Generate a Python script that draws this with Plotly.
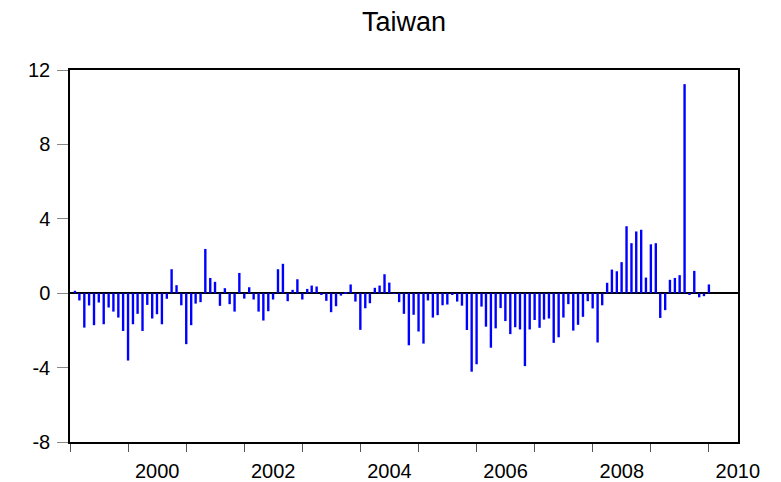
import pandas as pd
import plotly.graph_objects as go

# monthly values, Feb 1999 .. Jan 2010
months = pd.date_range('1999-02-01', '2010-01-01', freq='MS')
values = [
    0.13, -0.39, -1.85, -0.66, -1.72, -0.50, -1.67, -0.77, -0.99, -1.31, -2.03,
    -3.62, -1.67, -1.11, -2.03, -0.63, -1.36, -1.13, -1.67, -0.30, 1.29, 0.43,
    -0.65, -2.74, -1.72, -0.56, -0.48, 2.38, 0.82, 0.61, -0.68, 0.27, -0.59,
    -0.99, 1.09, -0.29, 0.32, -0.34, -0.99, -1.47, -0.97, -0.34, 1.29, 1.58,
    -0.43, 0.18, 0.75, -0.34, 0.23, 0.41, 0.36, -0.07, -0.41, -1.02, -0.70,
    -0.13, 0.05, 0.47, -0.45, -1.97, -0.81, -0.54, 0.29, 0.41, 1.02, 0.57,
    -0.03, -0.48, -1.11, -2.80, -1.16, -2.06, -2.71, -0.39, -1.31, -1.18,
    -0.65, -0.61, -0.07, -0.45, -0.67, -1.98, -4.22, -3.82, -0.72, -1.80,
    -2.93, -1.89, -0.80, -1.50, -2.20, -1.83, -1.95, -3.92, -1.95, -1.44,
    -1.86, -1.42, -1.36, -2.67, -2.37, -1.31, -0.59, -2.01, -1.70, -1.27,
    -0.43, -0.82, -2.65, -0.65, 0.56, 1.27, 1.18, 1.67, 3.60, 2.69, 3.32,
    3.41, 0.84, 2.63, 2.69, -1.33, -0.91, 0.72, 0.82, 0.97, 11.24, -0.09,
    1.20, -0.22, -0.16, 0.47,
]

year_labels = ['2000', '2002', '2004', '2006', '2008', '2010']
label_dates = [y + '-07-02' for y in year_labels]
y_ticks = [-8, -4, 0, 4, 8, 12]
y_labels = ['-8', '-4', '0', '4', '8', '12']

font = 'Arial, Liberation Sans, sans-serif'

fig = go.Figure()
fig.add_trace(go.Bar(
    x=months, y=values,
    marker=dict(color='#0000FF', line=dict(width=0)),
    width=15 * 24 * 3600 * 1000,
))

fig.update_layout(
    width=781,
    height=482,
    margin=dict(l=70, r=43, t=70, b=40),
    plot_bgcolor='white',
    paper_bgcolor='white',
    showlegend=False,
    font=dict(family=font, size=20, color='black'),
    title=dict(
        text='Taiwan',
        x=0.5, xref='paper', xanchor='center',
        y=1 - 22 / 482, yref='container', yanchor='middle',
        font=dict(size=27, color='black'),
    ),
    xaxis=dict(
        type='date',
        range=['1999-01-01', '2010-07-03'],
        tickvals=label_dates,
        ticktext=year_labels,
        ticks='',
        ticklabelstandoff=10,
        automargin=False,
        showgrid=False,
        zeroline=False,
        showline=True, linecolor='black', linewidth=1.5, mirror=True,
        minor=dict(ticks='outside', ticklen=8, tickcolor='#555555',
                   dtick='M12', tick0='1999-01-01', showgrid=False),
    ),
    yaxis=dict(
        range=[-8, 12],
        tickvals=y_ticks,
        ticktext=y_labels,
        ticks='outside', ticklen=11, tickcolor='#888888',
        ticklabelstandoff=3,
        automargin=False,
        showgrid=False,
        zeroline=True, zerolinecolor='black', zerolinewidth=1.5,
        showline=True, linecolor='black', linewidth=1.5, mirror=True,
    ),
)

fig.write_html("out.html", config={'displayModeBar': False},
               post_script="document.body.style.margin = '0';")
